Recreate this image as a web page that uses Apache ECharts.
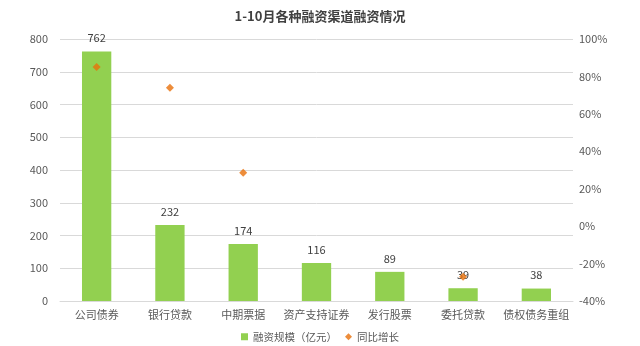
<!DOCTYPE html>
<html>
<head>
<meta charset="utf-8">
<script src="https://cdn.jsdelivr.net/npm/echarts@6/dist/echarts.min.js"></script>
<style>
  html, body { margin: 0; padding: 0; background: #fff; }
  #chart { width: 640px; height: 346px; }
</style>
</head>
<body>
<div id="chart"></div>
<script>
// Financing channels, Jan–Oct
const categories = ['公司债券', '银行贷款', '中期票据', '资产支持证券', '发行股票', '委托贷款', '债权债务重组'];
const scaleValues = [762, 232, 174, 116, 89, 39, 38];      // 融资规模（亿元）
const growthValues = [85, 74, 28.5, null, null, -27, null]; // 同比增长 (%)
const leftTicks = { min: 0, max: 800, interval: 100 };
const rightTicks = { min: -40, max: 100, interval: 20 };

const font = 'Microsoft YaHei, "Noto Sans CJK SC", sans-serif';
const axisText = { color: '#595959', fontSize: 11, fontFamily: font };

const chart = echarts.init(document.getElementById('chart'), null, { renderer: 'canvas' });
chart.setOption({
  animation: false,
  title: {
    text: '1-10月各种融资渠道融资情况',
    left: 'center',
    top: 5,
    textStyle: { fontSize: 13, fontWeight: 'bold', color: '#404040', fontFamily: font }
  },
  legend: {
    bottom: -1,
    left: 'center',
    itemWidth: 7,
    itemHeight: 7,
    itemGap: 8,
    textStyle: { color: '#595959', fontSize: 10.5, fontFamily: font },
    data: [
      { name: '融资规模（亿元）', icon: 'rect' },
      { name: '同比增长', icon: 'diamond' }
    ]
  },
  grid: { left: 60, right: 67, top: 39, bottom: 45 },
  xAxis: {
    type: 'category',
    data: categories,
    axisLine: { lineStyle: { color: '#d9d9d9' } },
    axisTick: { show: false },
    axisLabel: Object.assign({ margin: 8, interval: 0 }, axisText)
  },
  yAxis: [
    {
      type: 'value',
      min: leftTicks.min, max: leftTicks.max, interval: leftTicks.interval,
      axisLine: { show: false },
      axisTick: { show: false },
      splitLine: { lineStyle: { color: '#d9d9d9' } },
      axisLabel: Object.assign({ margin: 12 }, axisText)
    },
    {
      type: 'value',
      min: rightTicks.min, max: rightTicks.max, interval: rightTicks.interval,
      axisLine: { show: false },
      axisTick: { show: false },
      splitLine: { show: false },
      axisLabel: Object.assign({ margin: 6, formatter: '{value}%' }, axisText)
    }
  ],
  series: [
    {
      name: '融资规模（亿元）',
      type: 'bar',
      data: scaleValues,
      barWidth: '40%',
      itemStyle: { color: '#92D050' },
      label: {
        show: true,
        position: 'top',
        distance: 8,
        color: '#404040',
        fontSize: 11,
        fontFamily: font
      }
    },
    {
      name: '同比增长',
      type: 'scatter',
      yAxisIndex: 1,
      data: growthValues,
      symbol: 'diamond',
      symbolSize: 8,
      itemStyle: { color: '#E8700A' }
    }
  ]
});
</script>
</body>
</html>
